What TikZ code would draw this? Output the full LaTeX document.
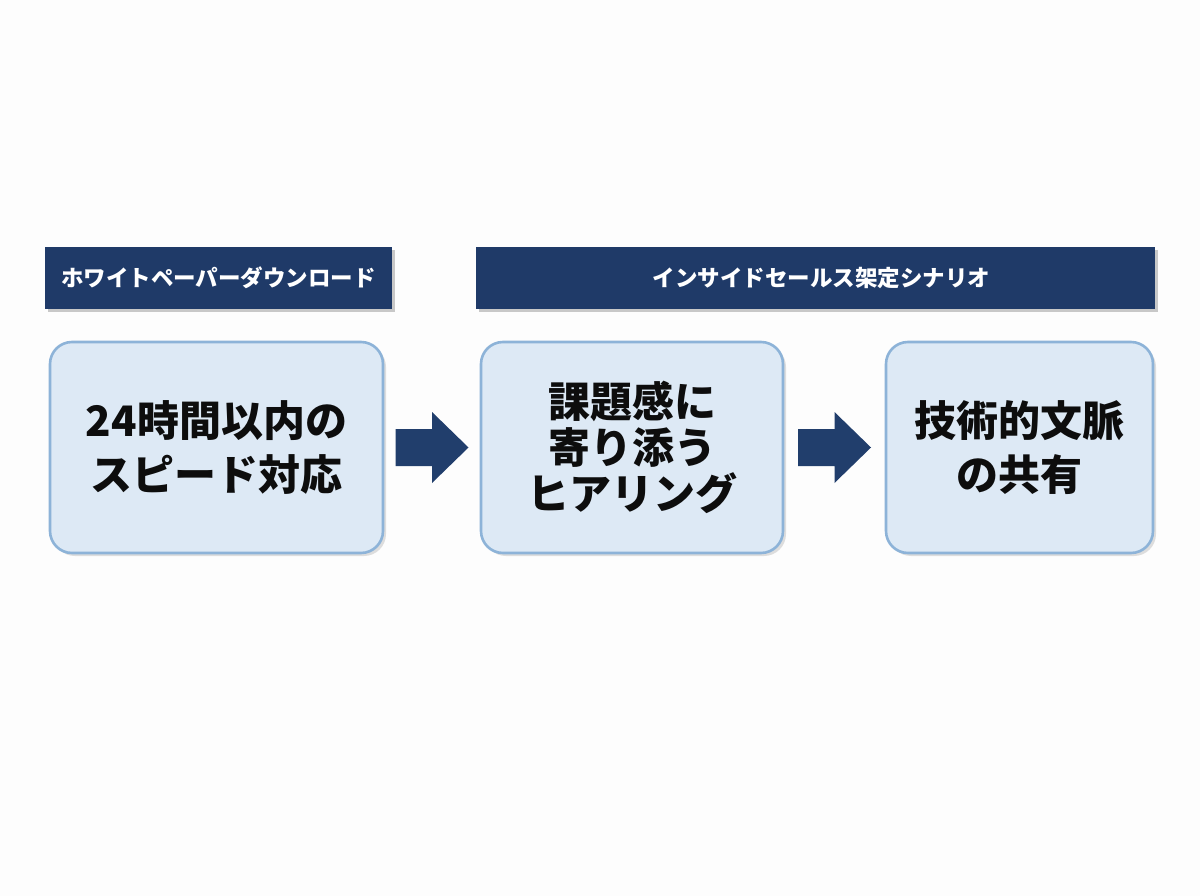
\documentclass[tikz,border=0pt]{standalone}
\usepackage{fontspec}
\newfontfamily\jp{Noto Sans CJK JP}
\usetikzlibrary{shadows,calc}
\definecolor{navy}{HTML}{1F3A68}
\definecolor{boxfill}{HTML}{DDE9F5}
\definecolor{boxline}{HTML}{8DB3D8}
\definecolor{arrowcol}{HTML}{213E6C}
\definecolor{bg}{HTML}{FDFDFD}
\tikzset{
  header/.style={fill=navy, draw=none, minimum height=62pt, inner sep=0pt,
    text=white, font=\jp\bfseries\fontsize{22.5}{27}\selectfont,
    drop shadow={shadow xshift=3pt, shadow yshift=-3pt, opacity=0.35, fill=black!60}},
  stepbox/.style={fill=boxfill, draw=boxline, line width=2.6pt, rounded corners=22pt,
    minimum height=211pt, inner sep=0pt, align=center, text=black!95,
    font=\jp\bfseries\fontsize{42}{54}\selectfont,
    drop shadow={shadow xshift=3pt, shadow yshift=-3pt, opacity=0.25, fill=black!50}},
  blockarrow/.style={fill=arrowcol}
}
\begin{document}
\begin{tikzpicture}[x=1pt,y=-1pt]
\fill[bg] (0,0) rectangle (1200,896);
\useasboundingbox (0,0) rectangle (1200,896);

\node[header, minimum width=347pt] (h1) at (218.5,278) {ホワイトペーパーダウンロード};
\node[header, minimum width=679pt] (h2) at (815.5,278) {\hspace*{12pt}インサイドセールス架定シナリオ};

\node[stepbox, minimum width=333pt] (b1) at (216.5,447.5) {24時間以内の\\スピード対応};
\node[stepbox, minimum width=302pt, font=\jp\bfseries\fontsize{42}{46}\selectfont] (b2) at (632,447.5) {課題感に\\寄り添う\\ヒアリング};
\node[stepbox, minimum width=267pt] (b3) at (1019.5,447.5) {技術的文脈\\の共有};

\coordinate (m1) at ($(b1.east)!0.5!(b2.west)$);
\coordinate (m2) at ($(b2.east)!0.5!(b3.west)$);
\foreach \m in {m1,m2}{
  \fill[blockarrow, shift={(\m)}] (-36.5,-18.5) -- (0,-18.5) -- (0,-35.5) -- (36.5,0)
    -- (0,35.5) -- (0,18.5) -- (-36.5,18.5) -- cycle;
}
\end{tikzpicture}
\end{document}
